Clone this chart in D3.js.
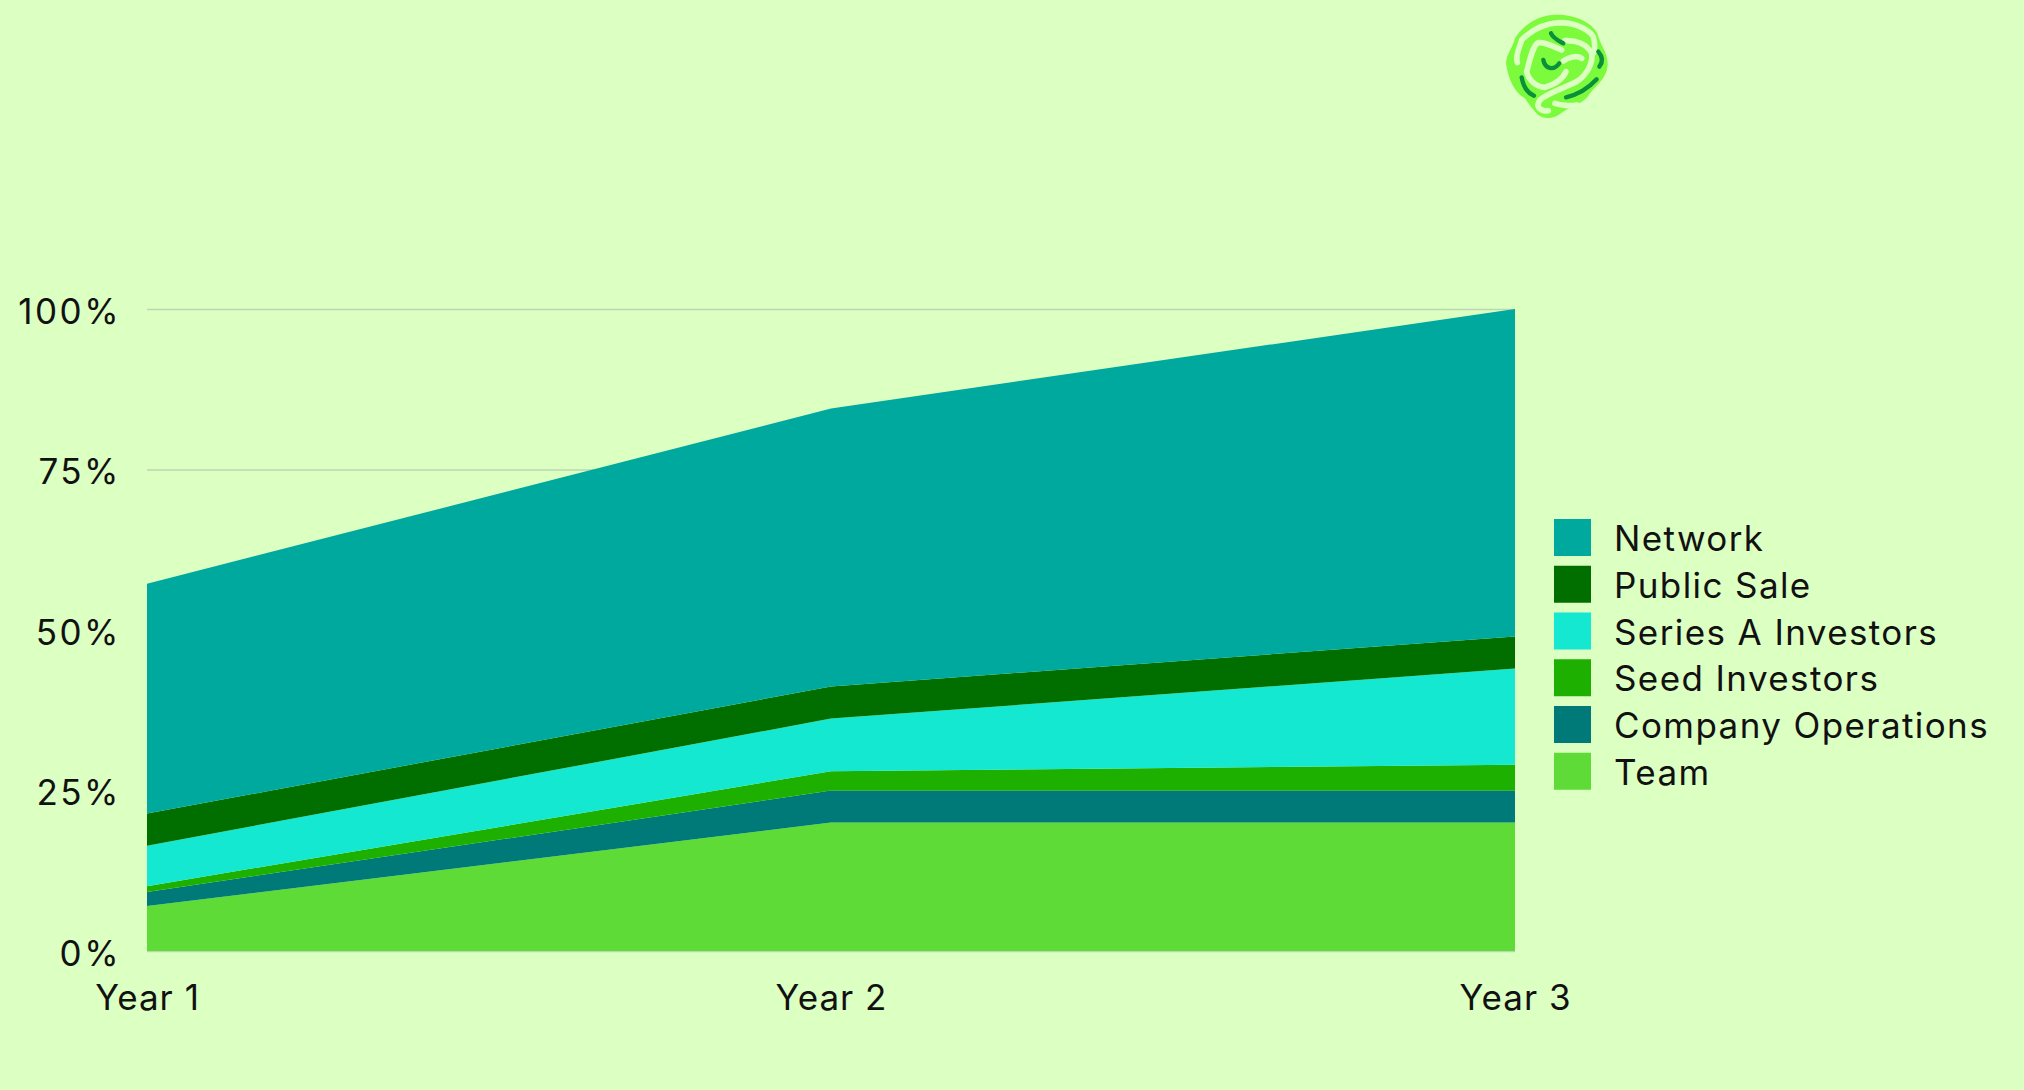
<!DOCTYPE html>
<html>
<head>
<meta charset="utf-8">
<script src="https://cdn.jsdelivr.net/npm/d3@7"></script>
<style>
  html, body { margin: 0; padding: 0; background: #dcffc2; }
  text { font-family: Inter, sans-serif; fill: #111; }
</style>
</head>
<body>
<div id="chart"></div>
<script>
// The data
var years = ['Year 1', 'Year 2', 'Year 3'];
var yTicks = [0, 25, 50, 75, 100];
var seriesNames = ['Team', 'Company Operations', 'Seed Investors', 'Series A Investors', 'Public Sale', 'Network'];
var team = [7, 20, 20];
var companyOperations = [2.2, 5, 5];
var seedInvestors = [0.9, 3, 4];
var seriesAInvestors = [6.3, 8.2, 15];
var publicSale = [5, 5, 5];
var network = [35.8, 43.3, 51];
var seriesColors = ['#5edb36', '#007a78', '#1eb000', '#15e8d0', '#006f00', '#00a99d'];

var seriesValues = [team, companyOperations, seedInvestors, seriesAInvestors, publicSale, network];
var rows = years.map(function(y, i) {
  var row = { year: y };
  seriesNames.forEach(function(n, k) { row[n] = seriesValues[k][i]; });
  return row;
});

// Chart dimensions
var margin = { top: 309, right: 509, bottom: 139, left: 147 },
    width = 2024 - margin.left - margin.right,
    height = 1090 - margin.top - margin.bottom;

var svg = d3.select('#chart').append('svg')
    .attr('width', 2024)
    .attr('height', 1090)
    .style('display', 'block');

var g = svg.append('g')
    .attr('transform', 'translate(' + margin.left + ',' + margin.top + ')');

var x = d3.scalePoint().domain(years).range([0, width]);
var y = d3.scaleLinear().domain([0, 100]).range([height, 0]);

// Grid lines and y axis
var yAxis = g.append('g')
    .call(d3.axisLeft(y).tickValues(yTicks).tickSize(-width).tickPadding(26)
      .tickFormat(function(d) { return d + '%'; }));
yAxis.select('.domain').remove();
yAxis.selectAll('line').attr('stroke', '#bcd6b0').attr('stroke-width', 1.5);
yAxis.selectAll('text')
    .attr('font-size', 35)
    .attr('dy', '0.4em')
    .style('font-family', 'Inter, sans-serif')
    .style('letter-spacing', '2.5px');

// Stacked areas
var stack = d3.stack().keys(seriesNames);
var area = d3.area()
    .x(function(d) { return x(d.data.year); })
    .y0(function(d) { return y(d[0]); })
    .y1(function(d) { return y(d[1]); });

g.selectAll('path.layer')
    .data(stack(rows))
    .enter()
  .append('path')
    .attr('class', 'layer')
    .attr('d', area)
    .style('fill', function(d, i) { return seriesColors[i]; });

// X axis labels
var xAxis = g.append('g')
    .attr('transform', 'translate(0,' + height + ')')
    .call(d3.axisBottom(x).tickSize(0).tickPadding(34));
xAxis.select('.domain').remove();
xAxis.selectAll('text')
    .attr('font-size', 35)
    .style('font-family', 'Inter, sans-serif')
    .style('letter-spacing', '1px');

// Legend, top of the stack first
var legendRows = seriesNames.slice().reverse();
var legendColors = seriesColors.slice().reverse();
var legend = svg.append('g').attr('transform', 'translate(1554,519)');
var item = legend.selectAll('g')
    .data(legendRows)
    .enter()
  .append('g')
    .attr('transform', function(d, i) { return 'translate(0,' + i * 46.75 + ')'; });
item.append('rect')
    .attr('width', 37)
    .attr('height', 37)
    .style('fill', function(d, i) { return legendColors[i]; });
item.append('text')
    .attr('x', 60)
    .attr('y', 32)
    .attr('font-size', 35)
    .style('letter-spacing', '1.4px')
    .text(function(d) { return d; });

// Logo, drawn in 3x crop coordinates
var logo = svg.append('g').attr('transform', 'translate(1480,0) scale(0.3333)');
logo.append('path')
    .attr('d', 'M215 45C270 40 330 60 352 100C360 135 385 160 383 195C380 235 350 255 330 280C315 310 270 320 245 338C225 355 195 360 175 345C155 325 145 310 135 295C105 280 85 240 78 190C80 160 100 140 105 115C130 75 170 50 215 45Z')
    .style('fill', '#7cfb3c');
var logoLight = [
  'M112 188C105 165 120 140 125 120C150 95 190 70 240 68C280 68 325 85 340 110C345 130 345 150 340 160',
  'M245 150C220 140 195 125 175 128C160 135 150 175 140 215C145 240 170 262 195 262C225 255 250 235 258 215',
  'M255 122C285 120 320 130 335 160C340 190 320 225 290 245C250 265 200 280 180 300C165 320 180 335 205 332',
  'M250 183C265 172 290 165 305 175',
  'M225 310C240 315 270 320 290 315'
];
var logoDark = [
  'M213 100C220 115 235 122 250 130',
  'M355 155C368 170 370 185 358 200',
  'M190 180C195 205 220 215 238 190',
  'M125 232C130 260 145 280 162 287',
  'M258 292C290 285 325 265 350 238'
];
logo.selectAll('path.light')
    .data(logoLight)
    .enter()
  .append('path')
    .attr('class', 'light')
    .attr('d', function(d) { return d; })
    .style('fill', 'none')
    .style('stroke', '#dcffc2')
    .style('stroke-width', 17)
    .style('stroke-linecap', 'round');
logo.selectAll('path.dark')
    .data(logoDark)
    .enter()
  .append('path')
    .attr('class', 'dark')
    .attr('d', function(d) { return d; })
    .style('fill', 'none')
    .style('stroke', '#0a8f3a')
    .style('stroke-width', 13)
    .style('stroke-linecap', 'round');
</script>
</body>
</html>
